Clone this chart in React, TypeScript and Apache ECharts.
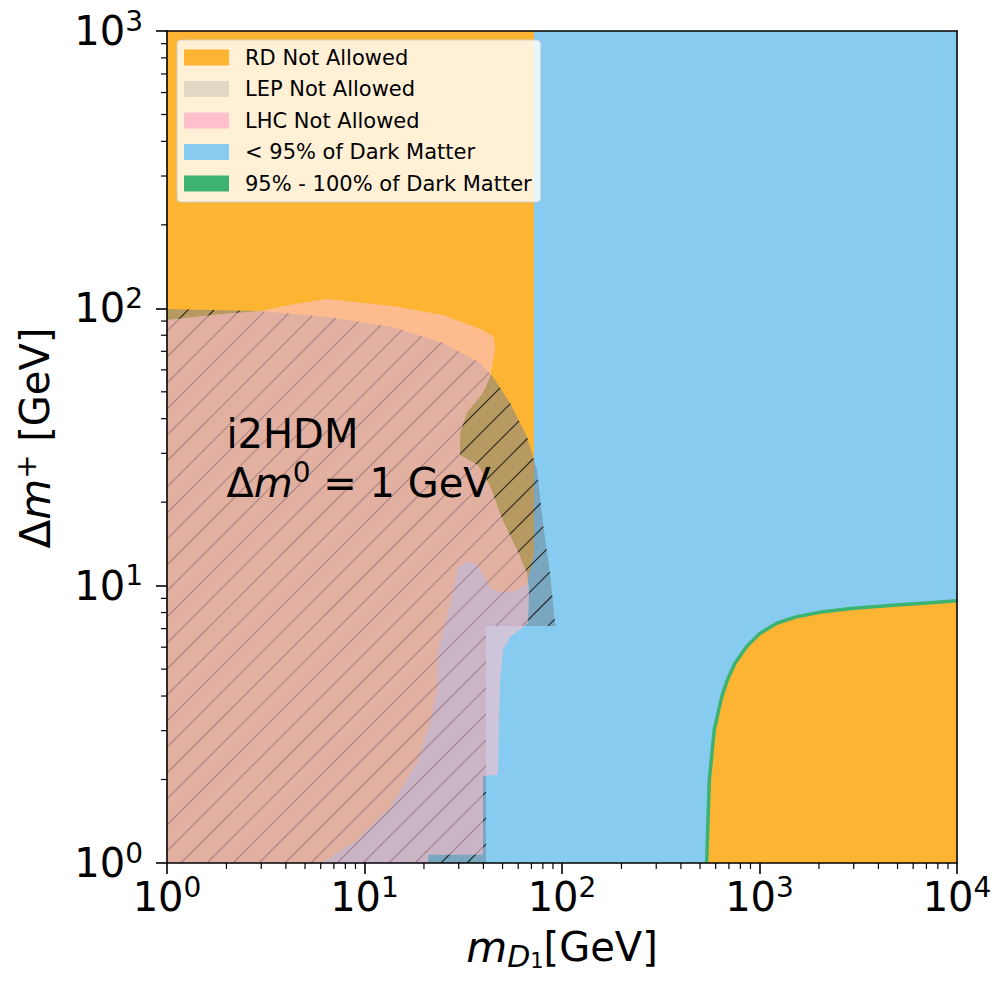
import React, { useEffect, useRef } from "react";
import * as echarts from "echarts";

const FONT = "DejaVu Sans";

// axis ranges (GeV)
const xRange = [1, 10000];
const yRange = [1, 1000];

// legend entries
const legendNames = [
  "RD Not Allowed",
  "LEP Not Allowed",
  "LHC Not Allowed",
  "< 95% of Dark Matter",
  "95% - 100% of Dark Matter",
];
const legendColors = ["#FDB432", "#E3D8C3", "#FFBFCB", "#87CCF0", "#3CB371"];

// region where relic density < 95% of dark matter (m_D1, Δm+) in GeV
const underRegion = [
  [72.1, 1000], [10000, 1000], [10000, 1], [6.09, 1], [9.17, 1.21], [13.5, 1.59],
  [18.4, 2.3], [21.5, 3.2], [23.3, 4.21], [23.6, 5.86], [26.2, 7.71], [28.7, 10.2],
  [29.7, 11.6], [32.7, 12.2], [36.7, 12.0], [39.8, 10.9], [43.2, 9.8], [48.5, 9.49],
  [57.8, 9.57], [66.5, 10.05], [68.9, 11.4], [72.1, 12.9],
];

// 95% - 100% of dark matter contour (lower right)
const relicEdge = [
  [540, 1], [557, 1.99], [590, 3.02], [644, 3.98], [687, 4.57], [751, 5.25],
  [861, 6.03], [1006, 6.73], [1222, 7.32], [1543, 7.73], [2104, 8.06], [2985, 8.29],
  [4951, 8.52], [7301, 8.68], [10000, 8.83],
];

// LEP excluded region
const lepRegion = [
  [1, 99.5], [2.96, 97.8], [6.46, 93.1], [13.9, 85.7], [25.0, 75.0], [38.4, 63.6],
  [44.7, 56.5], [54.6, 45.6], [66.5, 34.4], [74.7, 26.1], [80.1, 16.8], [86.9, 11.1],
  [92.2, 7.33], [93.3, 7.16], [41.2, 7.16], [41.2, 1], [1, 1],
];

// LHC excluded region
const lhcRegion = [
  [1, 90.8], [1.85, 95.3], [2.96, 97.8], [4.2, 103], [6.46, 108], [13.9, 102],
  [25.0, 94.6], [39.8, 83.6], [45.3, 78.9], [45.8, 70.8], [44.2, 61.4], [43.2, 56.5],
  [39.8, 49.5], [33.0, 42.0], [30.5, 35.5], [30.5, 29.6], [37.6, 27.2], [43.2, 22.9],
  [50.3, 17.1], [59.2, 13.5], [66.5, 11.1], [68.1, 9.64], [67.3, 7.33], [62.7, 7.03],
  [54.6, 6.53], [50.3, 5.86], [48.5, 4.46], [47.4, 2.08], [39.8, 2.06], [39.8, 1.07],
  [21.0, 1.07], [21.0, 1], [1, 1],
];

// annotation anchor (data coordinates) and text
const annotationAt = [2, 30];
const annotationTitle = "i2HDM";

function hatchLines(P: number[][], origin: number[]) {
  const step = 26;
  const phase = 14;
  const sums = P.map((p) => p[0] + p[1]);
  const cMin = Math.min(...sums);
  const cMax = Math.max(...sums);
  let c = origin[0] + origin[1] + phase;
  while (c > cMin) c -= step;
  while (c < cMin) c += step;
  const out: any[] = [];
  const n = P.length;
  for (; c < cMax; c += step) {
    const xs: number[][] = [];
    for (let i = 0; i < n; i++) {
      const a = P[i];
      const b = P[(i + 1) % n];
      const fa = a[0] + a[1] - c;
      const fb = b[0] + b[1] - c;
      if (fa < 0 !== fb < 0) {
        const t = fa / (fa - fb);
        xs.push([a[0] + t * (b[0] - a[0]), a[1] + t * (b[1] - a[1])]);
      }
    }
    xs.sort((p, q) => p[0] - q[0]);
    for (let k = 0; k + 1 < xs.length; k += 2) {
      out.push({
        type: "line",
        shape: { x1: xs[k][0], y1: xs[k][1], x2: xs[k + 1][0], y2: xs[k + 1][1] },
        style: { stroke: "rgba(0,0,0,0.75)", lineWidth: 1.2 },
      });
    }
  }
  return out;
}

function regionSeries(name: string, pts: number[][], fill: string, legendColor: string, z: number, hatch = false) {
  return {
    type: "custom",
    name,
    coordinateSystem: "cartesian2d",
    data: pts,
    encode: { x: 0, y: 1 },
    z,
    silent: true,
    clip: true,
    itemStyle: { color: legendColor },
    renderItem: (params: any, api: any) => {
      if (params.dataIndex !== 0) return null;
      const P = pts.map((p) => api.coord(p));
      const children: any[] = [{ type: "polygon", shape: { points: P }, style: { fill } }];
      if (hatch) children.push(...hatchLines(P, api.coord([xRange[0], yRange[0]])));
      return { type: "group", children };
    },
  };
}

const tickRich = {
  b: { fontFamily: FONT, fontSize: 40, color: "#000", lineHeight: 48 },
  s: { fontFamily: FONT, fontSize: 28, color: "#000", verticalAlign: "top", lineHeight: 31 },
};
const powFmt = (v: number) => `{b|10}{s|${Math.round(Math.log10(v))}}`;
const axisLineStyle = { color: "#000", width: 1.6 };

export default function App() {
  const ref = useRef<HTMLDivElement>(null);
  useEffect(() => {
    const chart = echarts.init(ref.current!, null, { renderer: "svg" });
    const option: any = {
      animation: false,
      backgroundColor: "#fff",
      grid: {
        left: 167,
        top: 31,
        width: 790,
        height: 832,
        show: true,
        backgroundColor: legendColors[0],
        borderWidth: 0,
        containLabel: false,
        outerBoundsMode: "none",
      },
      legend: {
        data: legendNames.map((n, i) => ({ name: n, itemStyle: { color: legendColors[i], borderWidth: 0 } })),
        orient: "vertical",
        left: 177,
        top: 40,
        icon: "rect",
        itemWidth: 45,
        itemHeight: 16,
        itemGap: 10.5,
        padding: [7, 9, 8, 7],
        backgroundColor: "rgba(255,255,255,0.8)",
        borderColor: "rgba(204,204,204,0.9)",
        borderWidth: 1,
        borderRadius: 4,
        selectedMode: false,
        textStyle: { fontFamily: FONT, fontSize: 21, color: "#000", lineHeight: 20, padding: [0, 0, 0, 11] },
        z: 20,
      },
      xAxis: [
        {
          type: "log",
          logBase: 10,
          min: xRange[0],
          max: xRange[1],
          position: "bottom",
          z: 10,
          axisLine: { show: true, lineStyle: axisLineStyle },
          axisTick: { show: true, length: 11, lineStyle: axisLineStyle },
          splitLine: { show: false },
          axisLabel: { formatter: powFmt, rich: tickRich, margin: 10, showMinLabel: true, showMaxLabel: true, hideOverlap: false },
          name: "{m|m}{d|D}{o|1}{t|[GeV]}",
          nameLocation: "middle",
          nameGap: 60,
          nameTextStyle: {
            rich: {
              m: { fontFamily: FONT, fontSize: 42, fontStyle: "italic", color: "#000", lineHeight: 48 },
              d: { fontFamily: FONT, fontSize: 30, fontStyle: "italic", color: "#000", verticalAlign: "bottom", lineHeight: 30 },
              o: { fontFamily: FONT, fontSize: 21, color: "#000", verticalAlign: "bottom", lineHeight: 17 },
              t: { fontFamily: FONT, fontSize: 40, color: "#000", lineHeight: 48 },
            },
          },
        },
        {
          type: "log",
          logBase: 10,
          min: xRange[0],
          max: xRange[1],
          position: "top",
          z: 10,
          axisLine: { show: true, lineStyle: axisLineStyle },
          axisTick: { show: false },
          axisLabel: { show: false },
          splitLine: { show: false },
        },
      ],
      yAxis: [
        {
          type: "log",
          logBase: 10,
          min: yRange[0],
          max: yRange[1],
          position: "left",
          z: 10,
          axisLine: { show: true, lineStyle: axisLineStyle },
          axisTick: { show: true, length: 11, lineStyle: axisLineStyle },
          splitLine: { show: false },
          axisLabel: { formatter: powFmt, rich: tickRich, margin: 24, showMinLabel: true, showMaxLabel: true, hideOverlap: false },
          name: "{d|Δ}{m|m}{p|+}{t| [GeV]}",
          nameLocation: "middle",
          nameRotate: 90,
          nameGap: 108,
          nameTextStyle: {
            padding: [0, 0, 0, 18],
            rich: {
              d: { fontFamily: FONT, fontSize: 42, color: "#000", lineHeight: 48 },
              m: { fontFamily: FONT, fontSize: 42, fontStyle: "italic", color: "#000", lineHeight: 48 },
              p: { fontFamily: FONT, fontSize: 29, color: "#000", verticalAlign: "top", lineHeight: 29 },
              t: { fontFamily: FONT, fontSize: 40, color: "#000", lineHeight: 48 },
            },
          },
        },
        {
          type: "log",
          logBase: 10,
          min: yRange[0],
          max: yRange[1],
          position: "right",
          z: 10,
          axisLine: { show: true, lineStyle: axisLineStyle },
          axisTick: { show: false },
          axisLabel: { show: false },
          splitLine: { show: false },
        },
      ],
      series: [
        regionSeries(legendNames[3], underRegion, legendColors[3], legendColors[3], 2),
        regionSeries(legendNames[0], [...relicEdge, [xRange[1], yRange[0]]], legendColors[0], legendColors[0], 3),
        {
          type: "custom",
          name: legendNames[4],
          coordinateSystem: "cartesian2d",
          data: relicEdge,
          encode: { x: 0, y: 1 },
          z: 4,
          silent: true,
          clip: true,
          itemStyle: { color: legendColors[4] },
          renderItem: (params: any, api: any) => {
            if (params.dataIndex !== 0) return null;
            return {
              type: "polyline",
              shape: { points: relicEdge.map((p) => api.coord(p)) },
              style: { stroke: legendColors[4], lineWidth: 3.5, fill: null, lineJoin: "round" },
            };
          },
        },
        regionSeries(legendNames[1], lepRegion, "rgba(112,128,144,0.5)", legendColors[1], 5, true),
        regionSeries(legendNames[2], lhcRegion, "rgba(255,192,203,0.6)", legendColors[2], 6),
        {
          type: "custom",
          name: "minor ticks",
          coordinateSystem: "cartesian2d",
          data: [[xRange[0], yRange[0]]],
          encode: { x: 0, y: 1 },
          z: 11,
          silent: true,
          clip: false,
          renderItem: (params: any, api: any) => {
            if (params.dataIndex !== 0) return null;
            const children: any[] = [];
            const st = { stroke: "#000", lineWidth: 1.2 };
            for (let v = xRange[0]; v < xRange[1]; v *= 10) {
              for (let m = 2; m < 10; m++) {
                const [px, py] = api.coord([v * m, yRange[0]]);
                children.push({ type: "line", shape: { x1: px, y1: py, x2: px, y2: py + 6 }, style: st });
              }
            }
            for (let v = yRange[0]; v < yRange[1]; v *= 10) {
              for (let m = 2; m < 10; m++) {
                const [px, py] = api.coord([xRange[0], v * m]);
                children.push({ type: "line", shape: { x1: px - 6, y1: py, x2: px, y2: py }, style: st });
              }
            }
            return { type: "group", children };
          },
        },
      ],
    };
    chart.setOption(option);
    const p = chart.convertToPixel({ gridIndex: 0 }, annotationAt) as number[];
    chart.setOption({
      graphic: [
        {
          type: "text",
          x: p[0],
          y: p[1] - 19.5,
          z: 30,
          style: { text: annotationTitle, fontFamily: FONT, fontSize: 40, fill: "#000", verticalAlign: "middle", align: "left" },
        },
        {
          type: "text",
          x: p[0],
          y: p[1] + 29.5,
          z: 30,
          style: {
            text: "{a|Δ}{m|m}{s|0}{a| = 1 GeV}",
            verticalAlign: "middle",
            align: "left",
            rich: {
              a: { fontFamily: FONT, fontSize: 40, color: "#000", lineHeight: 48 },
              m: { fontFamily: FONT, fontSize: 40, fontStyle: "italic", color: "#000", lineHeight: 48 },
              s: { fontFamily: FONT, fontSize: 28, color: "#000", verticalAlign: "top", lineHeight: 30 },
            },
          },
        },
      ],
    });
    return () => chart.dispose();
  }, []);
  return (
    <div
      ref={ref}
      style={{ position: "fixed", left: 0, top: 0, width: 994, height: 983, background: "#fff" }}
    />
  );
}
